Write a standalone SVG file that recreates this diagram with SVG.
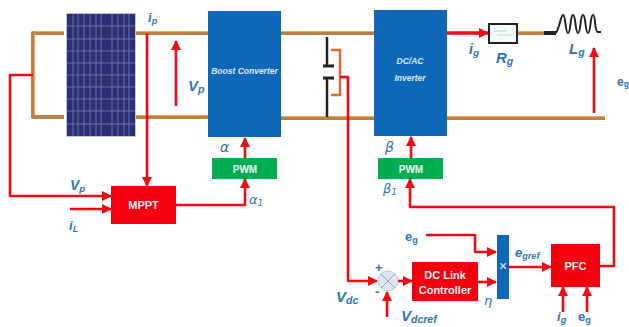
<svg xmlns="http://www.w3.org/2000/svg" width="629" height="327" viewBox="0 0 629 327">
<style>
text{font-family:"Liberation Sans",Arial,sans-serif}
.bus{fill:none;stroke:#b97f45;stroke-width:4;stroke-linejoin:round}
.busL{fill:none;stroke:#f4a65a;stroke-width:1.200}
.sig{fill:none;stroke:#f00a14;stroke-width:2.600;stroke-linejoin:round}
.lab{fill:#2e75b6;font-style:italic;font-weight:700}
.up{fill:#2e75b6;font-weight:700}
.sym{fill:#2e75b6;font-style:italic;font-family:"DejaVu Sans",sans-serif}
.sub{font-size:70%}
.wt{fill:#f4f4f4;font-weight:700;text-anchor:middle}
.blue{fill:#0f67b8}
.red{fill:#f5000f}
.green{fill:#00ad50}
.grid{stroke:#8d93c8;stroke-width:.8;opacity:.8}
</style>
<defs>
<marker id="a" markerUnits="userSpaceOnUse" markerWidth="11" markerHeight="11" refX="9" refY="5" orient="auto"><path d="M0 0L10 5L0 10z" fill="#f00a14"/></marker>
</defs>
<rect width="629" height="327" fill="#fff"/>
<g id="buses">
<path class="bus" d="M64 33H33V117H64M134 33H208M134 117H208M281 33H374M281 118H374M447 118H605M518 33H544"/>
<path class="busL" d="M64 31.500H34.500M34.500 33V115M134 31.500H208M134 115.500H208M281 31.500H374M281 116.500H374M447 116.500H605M518 31.500H544"/>
</g>
<g id="pv-panel">
<rect x="66" y="13" width="70" height="124" fill="#bfc3d8"/>
<rect x="67" y="14" width="68" height="122" fill="#2a2f73"/>
<path class="grid" d="M67 26H135M67 39H135M67 51H135M67 63H135M67 75H135M67 87H135M67 99H135M67 111H135M67 124H135M73 14V136M78 14V136M84 14V136M90 14V136M96 14V136M101 14V136M112 14V136M118 14V136M124 14V136M129 14V136"/>
</g>
<g id="boost-converter">
<rect class="blue" x="208" y="11" width="73" height="126"/>
<text x="244.500" y="74" font-size="8.500" font-style="italic" font-weight="700" fill="#dbe9f6" text-anchor="middle">Boost Converter</text>
</g>
<g id="inverter">
<rect class="blue" x="374" y="10" width="73" height="126"/>
<text x="410" y="64" font-size="8.500" font-style="italic" font-weight="700" fill="#dbe9f6" text-anchor="middle">DC/AC</text>
<text x="410" y="81" font-size="8.500" font-style="italic" font-weight="700" fill="#dbe9f6" text-anchor="middle">Inverter</text>
</g>
<g id="capacitor" fill="none" stroke="#222">
<path stroke-width="2.500" d="M327 37V66M327 77V117"/>
<path stroke-width="3" d="M323 66H334M323 78H334"/>
</g>
<g id="resistor">
<rect x="489" y="24" width="28" height="19" fill="#f4fbfb" stroke="#222" stroke-width="2"/>
<path d="M494 31H507M497 35H512" stroke="#b8d4d4" stroke-width="1"/>
</g>
<g id="inductor" fill="none" stroke="#222">
<path stroke-width="4" d="M544 33H556"/>
<path stroke-width="2" d="M556 33C560 26 561 15 563 15C566 15 565 33 568 33C571 33 570 15 573 15C576 15 575 33 578 33C581 33 580 15 583 15C586 15 585 33 588 33C591 33 590 15 593 15C596 15 594 32 598 32H601"/>
</g>
<g id="pwm-1">
<rect class="green" x="212" y="158" width="65" height="21"/>
<text class="wt" x="245" y="173" font-size="10">PWM</text>
</g>
<g id="pwm-2">
<rect class="green" x="378" y="158" width="65" height="21"/>
<text class="wt" x="411" y="173" font-size="10">PWM</text>
</g>
<g id="mppt">
<rect class="red" x="111" y="186" width="65" height="38"/>
<text class="wt" x="143.500" y="209" font-size="11">MPPT</text>
</g>
<g id="dc-link">
<rect class="red" x="412" y="262" width="66" height="39"/>
<text class="wt" x="445" y="279" font-size="11">DC Link</text>
<text class="wt" x="445" y="294" font-size="11">Controller</text>
</g>
<g id="multiplier">
<rect class="blue" x="497" y="235" width="12" height="64"/>
<text x="503" y="271" font-size="14" fill="#e8f0f8" text-anchor="middle">×</text>
</g>
<g id="pfc">
<rect class="red" x="551" y="244" width="49" height="43"/>
<text class="wt" x="575.500" y="270" font-size="11">PFC</text>
</g>
<g id="summer">
<circle cx="388" cy="281" r="10" fill="#dfe6f2" stroke="#b9c8dc"/>
<path d="M381 274L395 288M395 274L381 288" stroke="#8fa3bd" stroke-width="1"/>
</g>
<g id="connectors">
<path class="sig" d="M33 75H10V196H111" marker-end="url(#a)"/>
<path class="sig" d="M147 33V186" marker-end="url(#a)"/>
<path class="sig" d="M176 106V41" marker-end="url(#a)"/>
<path class="sig" d="M70 209H111" marker-end="url(#a)"/>
<path class="sig" d="M176 205H245V179" marker-end="url(#a)"/>
<path class="sig" d="M245 158V138" marker-end="url(#a)"/>
<path class="sig" d="M411 158V137" marker-end="url(#a)"/>
<path class="sig" d="M600 266H614V207H410V179" marker-end="url(#a)"/>
<path fill="none" stroke="#f4603a" stroke-width="2.500" d="M331 50H340V95H331"/>
<path class="sig" d="M340 77H348V281H377" marker-end="url(#a)"/>
<path class="sig" d="M398 281H412" marker-end="url(#a)"/>
<path class="sig" d="M387 317V292" marker-end="url(#a)"/>
<path class="sig" d="M478 282H496" marker-end="url(#a)"/>
<path class="sig" d="M426 235H475V252H496" marker-end="url(#a)"/>
<path class="sig" d="M509 267H551" marker-end="url(#a)"/>
<path class="sig" d="M563 312V287" marker-end="url(#a)"/>
<path class="sig" d="M587 312V287" marker-end="url(#a)"/>
<path fill="none" stroke="#f00a14" stroke-width="3.500" d="M447 33H488" marker-end="url(#a)"/>
<path class="sig" d="M594 113V48" marker-end="url(#a)"/>
</g>
<g id="labels">
<text class="lab" x="148" y="22" font-size="13">i<tspan class="sub" dy="2">p</tspan></text>
<text class="lab" x="188" y="91" font-size="15">V<tspan class="sub" dy="2">p</tspan></text>
<text class="lab" x="70" y="190" font-size="14">V<tspan class="sub" dy="2">p</tspan></text>
<text class="lab" x="69" y="230" font-size="13">i<tspan class="sub" dy="2">L</tspan></text>
<text class="sym" x="220" y="152" font-size="14">α</text>
<text class="sym" x="249" y="204" font-size="13">α<tspan class="sub" dy="2">1</tspan></text>
<text class="sym" x="385" y="152" font-size="14">β</text>
<text class="sym" x="383" y="193" font-size="13">β<tspan class="sub" dy="2">1</tspan></text>
<text class="lab" x="469" y="54" font-size="14">i<tspan class="sub" dy="2">g</tspan></text>
<text class="lab" x="496" y="63" font-size="15">R<tspan class="sub" dy="2">g</tspan></text>
<text class="lab" x="569" y="54" font-size="15">L<tspan class="sub" dy="2">g</tspan></text>
<text class="up" x="617" y="86" font-size="12">e<tspan class="sub" dy="1">g</tspan></text>
<text class="up" x="405" y="241" font-size="13">e<tspan class="sub" dy="2">g</tspan></text>
<text class="lab" x="515" y="257" font-size="13">e<tspan class="sub" dy="2">gref</tspan></text>
<text class="lab" x="336" y="302" font-size="15">V<tspan class="sub" dy="2">dc</tspan></text>
<text class="lab" x="401" y="321" font-size="15">V<tspan class="sub" dy="2">dcref</tspan></text>
<text class="sym" x="484" y="305" font-size="13">η</text>
<text class="up" x="375" y="272" font-size="13">+</text>
<text class="up" x="375" y="296" font-size="13">-</text>
<text class="lab" x="557" y="321" font-size="13">i<tspan class="sub" dy="2">g</tspan></text>
<text class="up" x="578" y="321" font-size="13">e<tspan class="sub" dy="2">g</tspan></text>
</g>
</svg>
